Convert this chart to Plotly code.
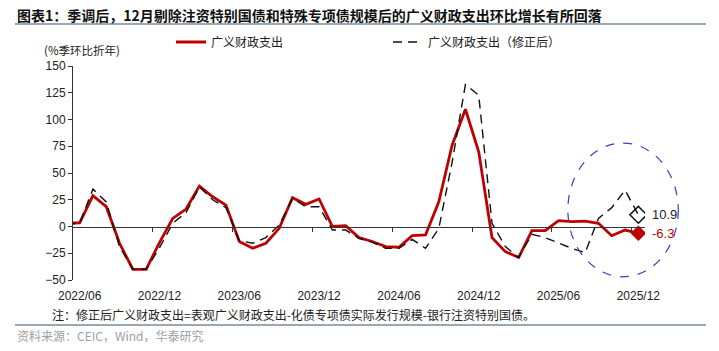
import plotly.graph_objects as go
import numpy as np

# ---------------- data ----------------
months = ["2022/05", "2022/06", "2022/07", "2022/08", "2022/09", "2022/10", "2022/11", "2022/12",
          "2023/01", "2023/02", "2023/03", "2023/04", "2023/05", "2023/06", "2023/07", "2023/08",
          "2023/09", "2023/10", "2023/11", "2023/12", "2024/01", "2024/02", "2024/03", "2024/04",
          "2024/05", "2024/06", "2024/07", "2024/08", "2024/09", "2024/10", "2024/11", "2024/12",
          "2025/01", "2025/02", "2025/03", "2025/04", "2025/05", "2025/06", "2025/07", "2025/08",
          "2025/09", "2025/10", "2025/11", "2025/12"]

broad_fiscal = [3, 3.5, 28.8, 18.5, -15.7, -40, -40, -15, 7.6, 16.3, 37.8, 27.8, 20, -14,
                -20.4, -15.7, -1.7, 26.9, 20.7, 25.7, 0, 0.8, -10.4, -14, -18.8, -19.4,
                -8.6, -7.9, 23, 76, 109.6, 69.8, -10.4, -23.5, -29, -3.9, -3.9, 5.4, 4.5,
                5, 3, -8.6, -3.3, -6.3]

broad_fiscal_adj = [2, 3, 35, 23, -19, -40, -40, -20, 3, 13, 37, 25, 17.6, -13,
                    -15.7, -10.4, 1.4, 26.3, 18.5, 18.5, -3.3, -3.3, -11, -14.8, -20.4, -20.4,
                    -12, -20.4, -1.7, 60, 132.7, 122.7, 3, -18.8, -29, -7.3, -10.4, -15.7,
                    -20.4, -24.4, 7.6, 17.6, 34, 10.9]

tick_labels = ["2022/06", "2022/12", "2023/06", "2023/12", "2024/06", "2024/12", "2025/06", "2025/12"]
y_ticks = [-50, -25, 0, 25, 50, 75, 100, 125, 150]

name_red = "广义财政支出"
name_dash = "广义财政支出（修正后）"

# ---------------- geometry ----------------
W, H = 719, 351
ML, MR, MT, MB = 73, 74, 66, 71
PW, PH = W - ML - MR, H - MT - MB
x = np.arange(len(months)) - 1          # 2022/06 -> 0
x_range = [-0.5, len(months) - 1.5]
y_range = [-50, 150]

def px_x(p):   # pixel -> paper x
    return (p - ML) / PW

def px_y(p):   # pixel -> paper y
    return (H - MB - p) / PH

def dx(v):     # data x -> paper
    return (v - x_range[0]) / (x_range[1] - x_range[0])

def dy(v):
    return (v - y_range[0]) / (y_range[1] - y_range[0])

tickvals = [months.index(t) - 1 for t in tick_labels]
boundaries = [v - 0.5 for v in tickvals[1:]]

RED = "#C00000"
FONT = "Liberation Sans, Arial, sans-serif"
CJK = "Noto Sans CJK SC, sans-serif"

fig = go.Figure()
fig.add_trace(go.Scatter(x=x, y=broad_fiscal, mode="lines", name=name_red,
                         line=dict(color=RED, width=2.8)))
fig.add_trace(go.Scatter(x=x, y=broad_fiscal_adj, mode="lines", name=name_dash,
                         line=dict(color="#111111", width=1.4, dash="9px,6px"),
                         xaxis="x2"))
# end markers
fig.add_trace(go.Scatter(x=[x[-1]], y=[broad_fiscal_adj[-1]], mode="markers", showlegend=False,
                         marker=dict(symbol="diamond-open", size=13, color="#111111",
                                     line=dict(width=1.5, color="#111111"))))
fig.add_trace(go.Scatter(x=[x[-1]], y=[broad_fiscal[-1]], mode="markers", showlegend=False,
                         marker=dict(symbol="diamond", size=12, color=RED)))

annotations = [
    dict(x=x[-1], y=broad_fiscal_adj[-1], xref="x", yref="y", text=f"{broad_fiscal_adj[-1]:.1f}",
         showarrow=False, xanchor="left", xshift=12, font=dict(family=FONT, size=13, color="#222222")),
    dict(x=x[-1], y=broad_fiscal[-1], xref="x", yref="y", text=f"{broad_fiscal[-1]:.1f}",
         showarrow=False, xanchor="left", xshift=12, font=dict(family=FONT, size=13, color=RED)),
    dict(x=px_x(42), y=px_y(50), xref="paper", yref="paper", text="(%季环比折年)",
         showarrow=False, xanchor="left", yanchor="middle", font=dict(family=CJK, size=11.5, color="#222222")),
    dict(x=px_x(15), y=px_y(15), xref="paper", yref="paper",
         text="<b>图表1：季调后，12月剔除注资特别国债和特殊专项债规模后的广义财政支出环比增长有所回落</b>",
         showarrow=False, xanchor="left", yanchor="middle", font=dict(family=CJK, size=14, color="#111111")),
    dict(x=px_x(50), y=px_y(314), xref="paper", yref="paper",
         text="注：修正后广义财政支出=表观广义财政支出-化债专项债实际发行规模-银行注资特别国债。",
         showarrow=False, xanchor="left", yanchor="middle", font=dict(family=CJK, size=12, color="#222222")),
    dict(x=px_x(15), y=px_y(335), xref="paper", yref="paper",
         text="资料来源：CEIC，Wind，华泰研究",
         showarrow=False, xanchor="left", yanchor="middle", font=dict(family=CJK, size=12, color="#A0A0A0")),
]

shapes = [
    dict(type="line", xref="paper", yref="paper", x0=px_x(15), x1=px_x(706), y0=px_y(24), y1=px_y(24),
         line=dict(color="#9AA8B6", width=1.8)),
    dict(type="line", xref="paper", yref="paper", x0=px_x(15), x1=px_x(706), y0=px_y(325), y1=px_y(325),
         line=dict(color="#9AA8B6", width=1.8)),
    dict(type="circle", xref="paper", yref="paper", x0=dx(36.7), x1=dx(45.0), y0=dy(-47), y1=dy(78),
         line=dict(color="#3C3CC0", width=1.2, dash="dash")),
]

fig.update_layout(
    width=W, height=H,
    margin=dict(l=ML, r=MR, t=MT, b=MB),
    paper_bgcolor="white", plot_bgcolor="white",
    showlegend=True,
    legend=dict(orientation="h", x=px_x(171), y=px_y(42), xanchor="left", yanchor="middle",
                font=dict(family=CJK, size=12, color="#222222"),
                entrywidth=172, entrywidthmode="pixels", bgcolor="rgba(0,0,0,0)"),
    xaxis=dict(range=x_range, tickvals=tickvals, ticktext=tick_labels, showgrid=False,
               zeroline=False, showline=False, ticks="", ticklabelstandoff=7,
               tickfont=dict(family=FONT, size=12, color="#222222")),
    xaxis2=dict(range=x_range, overlaying="x", matches="x", anchor="free", position=dy(0),
                showline=True, linecolor="#333333", linewidth=1, ticks="outside", ticklen=4,
                tickcolor="#333333", tickvals=boundaries, showticklabels=False, showgrid=False,
                zeroline=False),
    yaxis=dict(range=y_range, tickvals=y_ticks, showgrid=False, zeroline=False, showline=True,
               linecolor="#333333", linewidth=1, ticks="outside", ticklen=4, tickcolor="#333333",
               tickfont=dict(family=FONT, size=12, color="#222222")),
    annotations=annotations,
    shapes=shapes,
)

fig.write_html("out.html")
